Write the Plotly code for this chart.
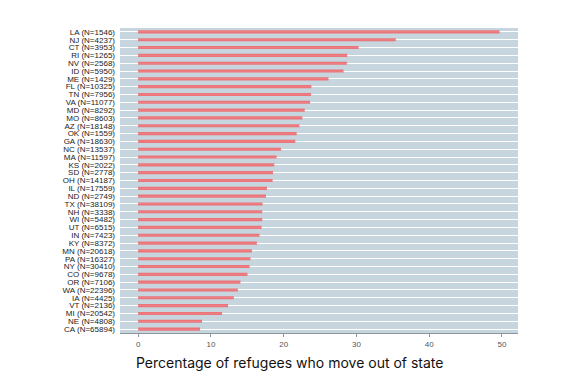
import plotly.graph_objects as go

states = ["LA (N=1546)", "NJ (N=4237)", "CT (N=3953)", "RI (N=1265)", "NV (N=2568)",
          "ID (N=5950)", "ME (N=1429)", "FL (N=10325)", "TN (N=7956)", "VA (N=11077)",
          "MD (N=8292)", "MO (N=8603)", "AZ (N=18148)", "OK (N=1559)", "GA (N=18630)",
          "NC (N=13537)", "MA (N=11597)", "KS (N=2022)", "SD (N=2778)", "OH (N=14187)",
          "IL (N=17559)", "ND (N=2749)", "TX (N=38109)", "NH (N=3338)", "WI (N=5482)",
          "UT (N=6515)", "IN (N=7423)", "KY (N=8372)", "MN (N=20618)", "PA (N=16327)",
          "NY (N=30410)", "CO (N=9678)", "OR (N=7106)", "WA (N=22396)", "IA (N=4425)",
          "VT (N=2136)", "MI (N=20542)", "NE (N=4808)", "CA (N=65894)"]
pct_out = [49.66, 35.4, 30.3, 28.73, 28.68,
           28.23, 26.16, 23.81, 23.77, 23.63,
           22.89, 22.57, 22.16, 21.79, 21.60,
           19.63, 19.03, 18.71, 18.53, 18.48,
           17.70, 17.56, 17.10, 17.05, 17.05,
           16.96, 16.68, 16.32, 15.63, 15.44,
           15.31, 15.03, 14.06, 13.70, 13.15,
           12.36, 11.54, 8.78, 8.50]
x_ticks = [0, 10, 20, 30, 40, 50]
x_title = "Percentage of refugees who move out of state"

n = len(states)

fig = go.Figure(go.Bar(
    x=pct_out, y=states, orientation="h",
    width=0.4,
    marker=dict(color="#ee6669", line=dict(width=0)),
    opacity=0.85,
    hoverinfo="x+y",
))

fig.update_layout(
    width=585, height=380,
    margin=dict(l=112, r=75, t=20, b=55, autoexpand=False),
    paper_bgcolor="white",
    plot_bgcolor="#c6d5de",
    showlegend=False,
    font=dict(family="Liberation Sans, Arial, sans-serif", size=8, color="#333"),
)
fig.update_xaxes(
    range=[-2.49, 52.2],
    tickmode="array", tickvals=x_ticks,
    showgrid=False, zeroline=False,
    showline=True, linecolor="#8a959c", linewidth=1,
    ticks="outside", ticklen=3, tickcolor="#8a959c",
    tickfont=dict(size=8, color="#555"),
    automargin=False,
)
fig.update_yaxes(
    categoryorder="array", categoryarray=states,
    tickmode="array", tickvals=states, ticktext=states,
    range=[n - 0.5, -0.5],
    showgrid=True, gridcolor="white", gridwidth=1.3,
    zeroline=False, showline=False,
    ticks="", ticklabelstandoff=4,
    tickfont=dict(size=8, color="#222"),
    automargin=False,
)
fig.add_annotation(
    text=x_title, xref="paper", yref="paper",
    x=0.426, y=-0.098,
    xanchor="center", yanchor="middle", showarrow=False,
    font=dict(family="Inter, Lato, sans-serif", size=14, color="#111"),
)

fig.write_html("out.html")
